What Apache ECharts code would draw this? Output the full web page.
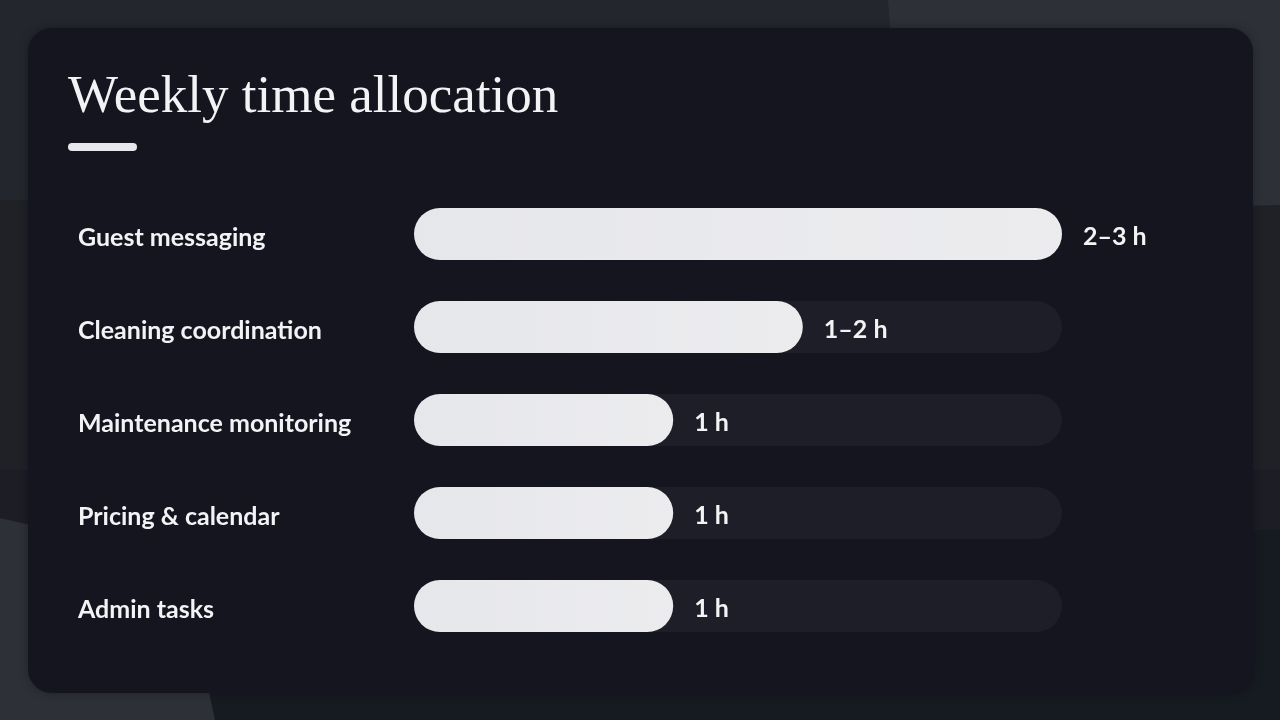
<!DOCTYPE html>
<html>
<head>
<meta charset="utf-8">
<script src="https://cdn.jsdelivr.net/npm/echarts@6/dist/echarts.min.js"></script>
<style>
html,body{margin:0;padding:0;background:#1f2127;}
#c{width:1280px;height:720px;}
</style>
</head>
<body>
<div id="c"></div>
<script>
const categories = ["Guest messaging","Cleaning coordination","Maintenance monitoring","Pricing & calendar","Admin tasks"];
const hours = [2.5, 1.5, 1, 1, 1];
const valueLabels = ["2–3 h","1–2 h","1 h","1 h","1 h"];
const axisMax = 2.5;

const labelFont = {color:'#f3f3f5', fontFamily:'Lato', fontWeight:'bold', fontSize:25};
const chart = echarts.init(document.getElementById('c'));
chart.setOption({
  backgroundColor: '#1f2127',
  animation: false,
  graphic: [
    {type:'rect', z:-10, shape:{x:0,y:0,width:1280,height:200}, style:{fill:'#23262d'}},
    {type:'polygon', z:-9, shape:{points:[[888,0],[1280,0],[1280,205],[905,215]]}, style:{fill:'#2e3037'}},
    {type:'rect', z:-10, shape:{x:0,y:470,width:1280,height:250}, style:{fill:'#1c1d25'}},
    {type:'rect', z:-10, shape:{x:0,y:530,width:1280,height:190}, style:{fill:'#161b21'}},
    {type:'polygon', z:-9, shape:{points:[[0,518],[30,525],[180,560],[215,720],[0,720]]}, style:{fill:'#2e3037'}},
    {type:'rect', z:-5, shape:{x:28,y:28,width:1225,height:665,r:24}, style:{fill:'#14151f', shadowBlur:10, shadowColor:'rgba(0,0,0,0.3)'}},
    {type:'rect', z:10, shape:{x:68,y:143,width:69,height:8,r:4}, style:{fill:'#e6e7ec'}}
  ],
  title: {
    text: 'Weekly time allocation',
    left: 68, top: 72, padding: 0,
    textStyle: {fontFamily:'Liberation Serif', fontWeight:'normal', fontSize:53, color:'#f3f3f6'}
  },
  grid: {left:414, right:218, top:187.5, height:465, containLabel:false},
  xAxis: {type:'value', min:0, max:axisMax, show:false},
  yAxis: {
    type:'category', data:categories, inverse:true,
    axisLine:{show:false}, axisTick:{show:false}, splitLine:{show:false},
    axisLabel:{margin:336, align:'left', formatter: v => '{a|' + v + '}',
      rich:{a:Object.assign({padding:[8,0,0,0]}, labelFont)}}
  },
  series: [{
    type:'bar', data:hours, barWidth:52,
    showBackground:true,
    backgroundStyle:{color:'#1d1e27', borderRadius:26},
    itemStyle:{borderRadius:26, color:new echarts.graphic.LinearGradient(0,0,1,0,[{offset:0,color:'#e6e7eb'},{offset:1,color:'#ececef'}])},
    label:Object.assign({show:true, position:'right', distance:21, offset:[0,3],
      formatter: p => valueLabels[p.dataIndex]}, labelFont)
  }]
});
</script>
</body>
</html>
